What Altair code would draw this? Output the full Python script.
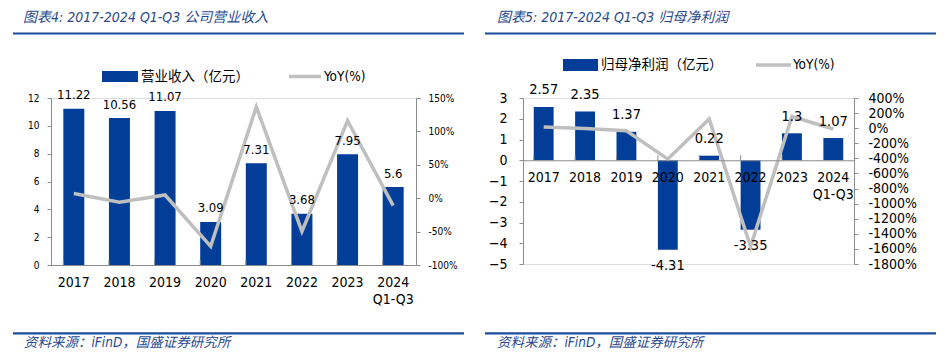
import altair as alt
import pandas as pd

# ---------------- data ----------------
categories = ["2017", "2018", "2019", "2020", "2021", "2022", "2023", "2024 Q1-Q3"]
revenue = [11.22, 10.56, 11.07, 3.09, 7.31, 3.68, 7.95, 5.6]
revenue_yoy = [7.0, -5.9, 4.8, -72.1, 136.6, -49.7, 116.0, -11.0]
profit = [2.57, 2.35, 1.37, -4.31, 0.22, -3.35, 1.3, 1.07]
profit_yoy = [16.0, -5.0, -35.0, -410.0, 122.0, -1570.0, 155.0, -11.0]

rev_ticks = [0, 2, 4, 6, 8, 10, 12]
rev_yoy_ticks = [-100, -50, 0, 50, 100, 150]
profit_ticks = [-5, -4, -3, -2, -1, 0, 1, 2, 3]
profit_yoy_ticks = [400, 200, 0, -200, -400, -600, -800, -1000, -1200, -1400, -1600, -1800]

title_left = "图表4:  2017-2024 Q1-Q3 公司营业收入"
title_right = "图表5:  2017-2024 Q1-Q3 归母净利润"
legend_left = "营业收入（亿元）"
legend_right = "归母净利润（亿元）"
legend_yoy = "YoY(%)"
source = "资料来源：iFinD，国盛证券研究所"

# ---------------- styles ----------------
FONT = "DejaVu Sans Condensed, DejaVu Sans, Noto Sans CJK SC"
CJK = "DejaVu Sans Condensed, Noto Sans CJK SC"
BLUE = "#023E98"
GRAY = "#BFBFBF"
AXIS = "#8C8C8C"
TITLE_C = "#2A4A8C"
LINE_C = "#1B4C9C"

rev_df = pd.DataFrame({"cat": categories, "val": revenue, "yoy": revenue_yoy,
                       "lab": [str(v) for v in revenue]})
pro_df = pd.DataFrame({"cat": categories, "val": profit, "yoy": profit_yoy,
                       "lab": [str(v) for v in profit]})
one = pd.DataFrame({"d": [0]})


def vrule(x1, x2, y1, y2, color, width, opacity=1.0):
    return alt.Chart(one).mark_rule(color=color, strokeWidth=width, strokeOpacity=opacity,
                                    strokeCap="butt").encode(
        x=alt.value(x1), x2=alt.value(x2), y=alt.value(y1), y2=alt.value(y2))


def vtext(txt, x, y, size, color="black", style="normal", font=CJK):
    return alt.Chart(one).mark_text(text=txt, align="left", baseline="middle", fontSize=size,
                                    color=color, fontStyle=style, font=font).encode(
        x=alt.value(x), y=alt.value(y))


def panel(df, W, H, pad_in, ydom, yticks, ytick_fs, ylabpad, yoydom, yoyticks, yoy_fs, yoylabpad,
          xoffset, zero_px, lab_fs, lab_dy, title, leg_label, leg, title_x, foot_x):
    xaxis = alt.Axis(title=None, labelAngle=0, ticks=False, domainColor=AXIS, domainWidth=1,
                     labelFont=FONT, labelFontSize=14, labelColor="black", labelPadding=10,
                     labelLineHeight=17, labelExpr="split(datum.label, ' ')", offset=xoffset,
                     zindex=1)
    X = alt.X("cat:N", sort=categories, axis=xaxis,
              scale=alt.Scale(paddingInner=pad_in, paddingOuter=pad_in / 2))

    bars = alt.Chart(df).mark_bar(color=BLUE).encode(
        x=X,
        y=alt.Y("val:Q", scale=alt.Scale(domain=ydom, nice=False, zero=False),
                axis=alt.Axis(title=None, values=yticks, grid=False, domainColor=AXIS,
                              tickColor=AXIS, tickSize=4, labelFont=FONT, labelFontSize=ytick_fs,
                              labelColor="black", labelPadding=ylabpad)))

    ticks = alt.Chart(df).mark_rule(color=AXIS, strokeWidth=1).encode(
        x=alt.X("cat:N", sort=categories, axis=xaxis, bandPosition=0,
                scale=alt.Scale(paddingInner=pad_in, paddingOuter=pad_in / 2)),
        y=alt.value(zero_px), y2=alt.value(zero_px - 5))

    line = alt.Chart(df).mark_line(color=GRAY, strokeWidth=3.5).encode(
        x=X,
        y=alt.Y("yoy:Q", scale=alt.Scale(domain=yoydom, nice=False, zero=False),
                axis=alt.Axis(title=None, orient="right", values=yoyticks, grid=False,
                              domainColor=AXIS, tickColor=AXIS, tickSize=4,
                              labelExpr="datum.value + '%'", labelFont=FONT,
                              labelFontSize=yoy_fs, labelColor="black",
                              labelPadding=yoylabpad)))

    pos = alt.Chart(df).transform_filter("datum.val >= 0").mark_text(
        font=FONT, fontSize=lab_fs, color="black", baseline="middle", dy=-lab_dy).encode(
        x=X, y=alt.Y("val:Q", scale=alt.Scale(domain=ydom, nice=False, zero=False), axis=None),
        text="lab:N")
    neg = alt.Chart(df).transform_filter("datum.val < 0").mark_text(
        font=FONT, fontSize=lab_fs, color="black", baseline="middle", dy=lab_dy).encode(
        x=X, y=alt.Y("val:Q", scale=alt.Scale(domain=ydom, nice=False, zero=False), axis=None),
        text="lab:N")

    rx1, rx2, ry1, ry2, tx, lx1, lx2, yx, ly = leg
    deco = [
        vtext(title, title_x, -80, 14, TITLE_C, "italic"),
        vrule(-38, 413, -64.5, -64.5, LINE_C, 2.2),
        alt.Chart(one).mark_rect(color=BLUE).encode(
            x=alt.value(rx1), x2=alt.value(rx2), y=alt.value(ry1), y2=alt.value(ry2)),
        vtext(leg_label, tx, ly, 13.5),
        vrule(lx1, lx2, ly, ly, GRAY, 3.5),
        vtext(legend_yoy, yx, ly, 13.5, font=FONT),
        vrule(-38, 413, 235.3, 235.3, LINE_C, 2.2),
        vtext(source, foot_x, 244.7, 13.5, TITLE_C, "italic"),
    ]
    layers = [bars, ticks, line, pos, neg] + deco
    return alt.layer(*layers).resolve_scale(y="independent").properties(width=W, height=H)


left = panel(rev_df, 365, 167, 0.54, [0, 12], rev_ticks, 10, 8, [-100, 150], rev_yoy_ticks, 10, 8,
             0, 167, 13, 13.5, title_left, legend_left,
             (51, 87, -27, -16, 90, 238, 270, 273, -21.5), -28, -27)
anchor = vrule(-38, -38, -89, -84, "white", 1, 0.0)
left = alt.layer(left, anchor)

right = panel(pro_df, 331, 166, 0.52, [-5, 3], profit_ticks, 14, 12, [-1800, 400],
              profit_yoy_ticks, 14, 10, -103.75, 62.25, 14.5, 16.5, title_right, legend_right,
              (40, 75, -39, -27, 78, 233, 268, 270, -33), -26, -26)

chart = alt.hconcat(left, right, spacing=107, bounds="flush").properties(
    padding={"left": 3, "top": 0, "right": 0, "bottom": 0}
).configure_view(stroke=None).configure(background="white")

chart.save("out.html", embed_options={"renderer": "svg", "actions": False})
